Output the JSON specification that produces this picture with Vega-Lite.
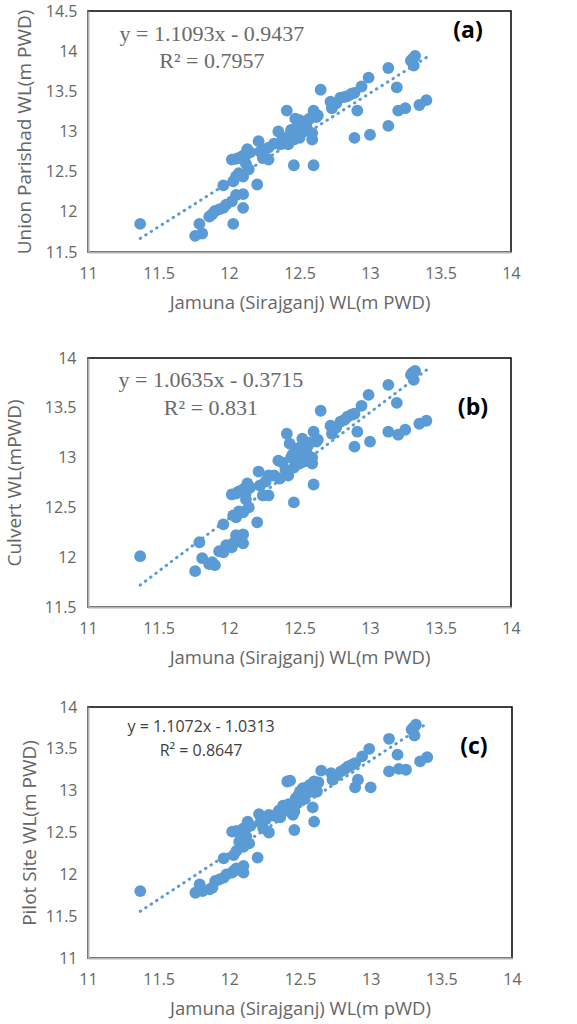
{
  "$schema": "https://vega.github.io/schema/vega-lite/v6.json",
  "padding": {"left": 4, "top": 2, "right": 5, "bottom": 0},
  "background": "white",
  "datasets": {
    "pts": [
      {"x": 11.37, "a": 11.85, "b": 12.01, "c": 11.80},
      {"x": 11.76, "a": 11.70, "b": 11.86, "c": 11.78},
      {"x": 11.79, "a": 11.85, "b": 12.15, "c": 11.88},
      {"x": 11.81, "a": 11.73, "b": 11.99, "c": 11.80},
      {"x": 11.86, "a": 11.94, "b": 11.93, "c": 11.82},
      {"x": 11.88, "a": 11.97, "b": 11.95, "c": 11.84},
      {"x": 11.90, "a": 12.01, "b": 11.92, "c": 11.92},
      {"x": 11.93, "a": 12.03, "b": 12.06, "c": 11.94},
      {"x": 11.96, "a": 12.33, "b": 12.33, "c": 12.19},
      {"x": 11.96, "a": 12.05, "b": 12.05, "c": 11.96},
      {"x": 11.98, "a": 12.09, "b": 12.12, "c": 12.00},
      {"x": 12.03, "a": 11.85, "b": 12.14, "c": 12.04},
      {"x": 12.02, "a": 12.13, "b": 12.10, "c": 12.02},
      {"x": 12.05, "a": 12.21, "b": 12.22, "c": 12.07},
      {"x": 12.10, "a": 12.22, "b": 12.23, "c": 12.10},
      {"x": 12.10, "a": 12.05, "b": 12.14, "c": 12.02},
      {"x": 12.03, "a": 12.38, "b": 12.42, "c": 12.23},
      {"x": 12.05, "a": 12.44, "b": 12.40, "c": 12.28},
      {"x": 12.07, "a": 12.48, "b": 12.46, "c": 12.39},
      {"x": 12.10, "a": 12.44, "b": 12.45, "c": 12.33},
      {"x": 12.14, "a": 12.53, "b": 12.50, "c": 12.37},
      {"x": 12.12, "a": 12.60, "b": 12.58, "c": 12.45},
      {"x": 12.02, "a": 12.65, "b": 12.63, "c": 12.51},
      {"x": 12.05, "a": 12.66, "b": 12.64, "c": 12.52},
      {"x": 12.07, "a": 12.67, "b": 12.66, "c": 12.50},
      {"x": 12.10, "a": 12.70, "b": 12.68, "c": 12.55},
      {"x": 12.12, "a": 12.71, "b": 12.65, "c": 12.56},
      {"x": 12.13, "a": 12.78, "b": 12.74, "c": 12.63},
      {"x": 12.15, "a": 12.74, "b": 12.70, "c": 12.58},
      {"x": 12.20, "a": 12.34, "b": 12.35, "c": 12.20},
      {"x": 12.21, "a": 12.88, "b": 12.86, "c": 12.72},
      {"x": 12.24, "a": 12.67, "b": 12.62, "c": 12.55},
      {"x": 12.22, "a": 12.75, "b": 12.72, "c": 12.62},
      {"x": 12.28, "a": 12.65, "b": 12.62, "c": 12.50},
      {"x": 12.28, "a": 12.80, "b": 12.82, "c": 12.71},
      {"x": 12.26, "a": 12.78, "b": 12.76, "c": 12.66},
      {"x": 12.32, "a": 12.85, "b": 12.82, "c": 12.70},
      {"x": 12.35, "a": 13.00, "b": 12.97, "c": 12.76},
      {"x": 12.36, "a": 12.84, "b": 12.79, "c": 12.68},
      {"x": 12.38, "a": 12.92, "b": 12.95, "c": 12.82},
      {"x": 12.40, "a": 12.88, "b": 12.88, "c": 12.78},
      {"x": 12.41, "a": 13.26, "b": 13.24, "c": 13.11},
      {"x": 12.43, "a": 12.95, "b": 13.14, "c": 13.12},
      {"x": 12.42, "a": 12.84, "b": 12.82, "c": 12.84},
      {"x": 12.44, "a": 13.02, "b": 13.00, "c": 12.80},
      {"x": 12.45, "a": 12.97, "b": 13.03, "c": 12.71},
      {"x": 12.46, "a": 12.58, "b": 12.55, "c": 12.53},
      {"x": 12.46, "a": 12.90, "b": 12.90, "c": 12.75},
      {"x": 12.47, "a": 13.16, "b": 13.09, "c": 12.91},
      {"x": 12.48, "a": 13.05, "b": 12.98, "c": 12.85},
      {"x": 12.49, "a": 13.10, "b": 13.05, "c": 12.95},
      {"x": 12.50, "a": 12.92, "b": 12.94, "c": 12.99},
      {"x": 12.50, "a": 13.14, "b": 13.10, "c": 12.97},
      {"x": 12.51, "a": 13.00, "b": 13.02, "c": 12.92},
      {"x": 12.52, "a": 13.08, "b": 13.19, "c": 13.03},
      {"x": 12.53, "a": 13.00, "b": 12.96, "c": 12.90},
      {"x": 12.54, "a": 13.10, "b": 13.08, "c": 13.00},
      {"x": 12.55, "a": 13.05, "b": 13.05, "c": 12.97},
      {"x": 12.56, "a": 13.14, "b": 13.12, "c": 13.05},
      {"x": 12.57, "a": 13.16, "b": 13.15, "c": 13.07},
      {"x": 12.59, "a": 12.98, "b": 13.00, "c": 12.99},
      {"x": 12.59, "a": 12.90, "b": 12.94, "c": 12.80},
      {"x": 12.60, "a": 12.58, "b": 12.73, "c": 12.63},
      {"x": 12.60, "a": 13.26, "b": 13.26, "c": 13.11},
      {"x": 12.62, "a": 13.18, "b": 13.16, "c": 12.99},
      {"x": 12.63, "a": 13.20, "b": 13.18, "c": 13.10},
      {"x": 12.65, "a": 13.52, "b": 13.47, "c": 13.24},
      {"x": 12.72, "a": 13.37, "b": 13.32, "c": 13.21},
      {"x": 12.73, "a": 13.29, "b": 13.24, "c": 13.13},
      {"x": 12.76, "a": 13.35, "b": 13.30, "c": 13.18},
      {"x": 12.79, "a": 13.42, "b": 13.36, "c": 13.23},
      {"x": 12.82, "a": 13.43, "b": 13.38, "c": 13.26},
      {"x": 12.84, "a": 13.44, "b": 13.41, "c": 13.29},
      {"x": 12.87, "a": 13.47, "b": 13.43, "c": 13.31},
      {"x": 12.89, "a": 13.48, "b": 13.44, "c": 13.33},
      {"x": 12.94, "a": 13.56, "b": 13.52, "c": 13.41},
      {"x": 12.99, "a": 13.67, "b": 13.63, "c": 13.50},
      {"x": 12.91, "a": 13.26, "b": 13.26, "c": 13.13},
      {"x": 12.89, "a": 12.92, "b": 13.11, "c": 13.04},
      {"x": 13.00, "a": 12.96, "b": 13.16, "c": 13.04},
      {"x": 13.13, "a": 13.79, "b": 13.73, "c": 13.62},
      {"x": 13.13, "a": 13.07, "b": 13.26, "c": 13.23},
      {"x": 13.19, "a": 13.55, "b": 13.55, "c": 13.43},
      {"x": 13.20, "a": 13.26, "b": 13.23, "c": 13.26},
      {"x": 13.25, "a": 13.29, "b": 13.28, "c": 13.25},
      {"x": 13.29, "a": 13.88, "b": 13.83, "c": 13.73},
      {"x": 13.30, "a": 13.90, "b": 13.85, "c": 13.75},
      {"x": 13.32, "a": 13.94, "b": 13.87, "c": 13.79},
      {"x": 13.31, "a": 13.82, "b": 13.78, "c": 13.66},
      {"x": 13.35, "a": 13.33, "b": 13.34, "c": 13.35},
      {"x": 13.40, "a": 13.39, "b": 13.37, "c": 13.40}
    ],
    "trend": [
      {"panel": "a", "x": 11.37, "y": 11.669},
      {"panel": "a", "x": 13.41, "y": 13.932},
      {"panel": "b", "x": 11.37, "y": 11.720},
      {"panel": "b", "x": 13.40, "y": 13.879},
      {"panel": "c", "x": 11.37, "y": 11.558},
      {"panel": "c", "x": 13.40, "y": 13.805}
    ],
    "notes": [
      {"panel": "a", "kind": "eq", "x": 11.879, "y": 14.214, "text": "y = 1.1093x - 0.9437"},
      {"panel": "a", "kind": "eq", "x": 11.879, "y": 13.878, "text": "R² = 0.7957"},
      {"panel": "a", "kind": "tag", "x": 13.695, "y": 14.25, "text": "(a)"},
      {"panel": "b", "kind": "eq", "x": 11.872, "y": 13.779, "text": "y = 1.0635x - 0.3715"},
      {"panel": "b", "kind": "eq", "x": 11.872, "y": 13.498, "text": "R² = 0.831"},
      {"panel": "b", "kind": "tag", "x": 13.73, "y": 13.498, "text": "(b)"},
      {"panel": "c", "kind": "eq", "x": 11.80, "y": 13.761, "text": "y = 1.1072x - 1.0313"},
      {"panel": "c", "kind": "eq", "x": 11.80, "y": 13.474, "text": "R² = 0.8647"},
      {"panel": "c", "kind": "tag", "x": 13.73, "y": 13.522, "text": "(c)"}
    ]
  },
  "concat": [
    {
      "width": 423, "height": 241,
      "layer": [
        {
          "data": {"name": "pts"},
          "mark": {"type": "circle", "size": 140, "opacity": 1, "color": "#5b9bd5"},
          "encoding": {
            "x": {"field": "x", "type": "quantitative", "scale": {"domain": [11, 14], "nice": false, "zero": false},
                  "axis": {"values": [11, 11.5, 12, 12.5, 13, 13.5, 14], "title": "Jamuna (Sirajganj) WL(m PWD)"}},
            "y": {"field": "a", "type": "quantitative", "scale": {"domain": [11.5, 14.5], "nice": false, "zero": false},
                  "axis": {"values": [11.5, 12, 12.5, 13, 13.5, 14, 14.5], "title": "Union Parishad WL(m PWD)", "titlePadding": 11}}
          }
        },
        {
          "data": {"name": "trend"},
          "transform": [{"filter": "datum.panel === 'a'"}],
          "mark": {"type": "line", "color": "#5b9bd5", "strokeWidth": 3, "strokeDash": [0.5, 6], "strokeCap": "round"},
          "encoding": {"x": {"field": "x", "type": "quantitative"}, "y": {"field": "y", "type": "quantitative"}}
        },
        {
          "data": {"name": "notes"},
          "transform": [{"filter": "datum.panel === 'a' && datum.kind === 'eq'"}],
          "mark": {"type": "text", "font": "Liberation Serif", "fontSize": 22, "color": "#6a6a6a", "align": "center", "baseline": "middle"},
          "encoding": {"x": {"field": "x", "type": "quantitative"}, "y": {"field": "y", "type": "quantitative"}, "text": {"field": "text"}}
        },
        {
          "data": {"name": "notes"},
          "transform": [{"filter": "datum.panel === 'a' && datum.kind === 'tag'"}],
          "mark": {"type": "text", "font": "Open Sans", "fontWeight": "bold", "fontSize": 23, "color": "#000000", "align": "center", "baseline": "middle"},
          "encoding": {"x": {"field": "x", "type": "quantitative"}, "y": {"field": "y", "type": "quantitative"}, "text": {"field": "text"}}
        }
      ]
    },
    {
      "columns": 1,
      "align": "none",
      "spacing": 30,
      "concat": [
        {
          "width": 423, "height": 249,
          "layer": [
            {
              "data": {"name": "pts"},
              "mark": {"type": "circle", "size": 140, "opacity": 1, "color": "#5b9bd5"},
              "encoding": {
                "x": {"field": "x", "type": "quantitative", "scale": {"domain": [11, 14], "nice": false, "zero": false},
                      "axis": {"values": [11, 11.5, 12, 12.5, 13, 13.5, 14], "title": "Jamuna (Sirajganj) WL(m PWD)"}},
                "y": {"field": "b", "type": "quantitative", "scale": {"domain": [11.5, 14], "nice": false, "zero": false},
                      "axis": {"values": [11.5, 12, 12.5, 13, 13.5, 14], "title": "Culvert WL(mPWD)", "titlePadding": 20, "labelPadding": 12}}
              }
            },
            {
              "data": {"name": "trend"},
              "transform": [{"filter": "datum.panel === 'b'"}],
              "mark": {"type": "line", "color": "#5b9bd5", "strokeWidth": 3, "strokeDash": [0.5, 6], "strokeCap": "round"},
              "encoding": {"x": {"field": "x", "type": "quantitative"}, "y": {"field": "y", "type": "quantitative"}}
            },
            {
              "data": {"name": "notes"},
              "transform": [{"filter": "datum.panel === 'b' && datum.kind === 'eq'"}],
              "mark": {"type": "text", "font": "Liberation Serif", "fontSize": 22, "color": "#6a6a6a", "align": "center", "baseline": "middle"},
              "encoding": {"x": {"field": "x", "type": "quantitative"}, "y": {"field": "y", "type": "quantitative"}, "text": {"field": "text"}}
            },
            {
              "data": {"name": "notes"},
              "transform": [{"filter": "datum.panel === 'b' && datum.kind === 'tag'"}],
              "mark": {"type": "text", "font": "Open Sans", "fontWeight": "bold", "fontSize": 23, "color": "#000000", "align": "center", "baseline": "middle"},
              "encoding": {"x": {"field": "x", "type": "quantitative"}, "y": {"field": "y", "type": "quantitative"}, "text": {"field": "text"}}
            }
          ]
        },
        {
          "width": 424, "height": 251,
          "layer": [
            {
              "data": {"name": "pts"},
              "mark": {"type": "circle", "size": 140, "opacity": 1, "color": "#5b9bd5"},
              "encoding": {
                "x": {"field": "x", "type": "quantitative", "scale": {"domain": [11, 14], "nice": false, "zero": false},
                      "axis": {"values": [11, 11.5, 12, 12.5, 13, 13.5, 14], "title": "Jamuna (Sirajganj) WL(m pWD)"}},
                "y": {"field": "c", "type": "quantitative", "scale": {"domain": [11, 14], "nice": false, "zero": false},
                      "axis": {"values": [11, 11.5, 12, 12.5, 13, 13.5, 14], "title": "Pilot Site WL(m PWD)", "titlePadding": 6}}
              }
            },
            {
              "data": {"name": "trend"},
              "transform": [{"filter": "datum.panel === 'c'"}],
              "mark": {"type": "line", "color": "#5b9bd5", "strokeWidth": 3, "strokeDash": [0.5, 6], "strokeCap": "round"},
              "encoding": {"x": {"field": "x", "type": "quantitative"}, "y": {"field": "y", "type": "quantitative"}}
            },
            {
              "data": {"name": "notes"},
              "transform": [{"filter": "datum.panel === 'c' && datum.kind === 'eq'"}],
              "mark": {"type": "text", "font": "Open Sans", "fontSize": 16, "color": "#404040", "align": "center", "baseline": "middle"},
              "encoding": {"x": {"field": "x", "type": "quantitative"}, "y": {"field": "y", "type": "quantitative"}, "text": {"field": "text"}}
            },
            {
              "data": {"name": "notes"},
              "transform": [{"filter": "datum.panel === 'c' && datum.kind === 'tag'"}],
              "mark": {"type": "text", "font": "Open Sans", "fontWeight": "bold", "fontSize": 23, "color": "#000000", "align": "center", "baseline": "middle"},
              "encoding": {"x": {"field": "x", "type": "quantitative"}, "y": {"field": "y", "type": "quantitative"}, "text": {"field": "text"}}
            }
          ]
        }
      ]
    }
  ],
  "columns": 1,
  "align": "none",
  "spacing": 36,
  "config": {
    "view": {"stroke": "#000000", "strokeWidth": 1.5},
    "axis": {
      "grid": false,
      "ticks": false,
      "domainColor": "#b3b3b3",
      "domainWidth": 2,
      "labelFont": "Open Sans",
      "labelFontSize": 16,
      "labelColor": "#666666",
      "labelPadding": 11,
      "labelFlush": false,
      "labelOverlap": false,
      "format": "~g",
      "titleFont": "Open Sans",
      "titleFontSize": 19,
      "titleFontWeight": "normal",
      "titleColor": "#666666"
    },
    "axisX": {"labelPadding": 13, "titlePadding": 12, "titleFontSize": 18.5}
  }
}
